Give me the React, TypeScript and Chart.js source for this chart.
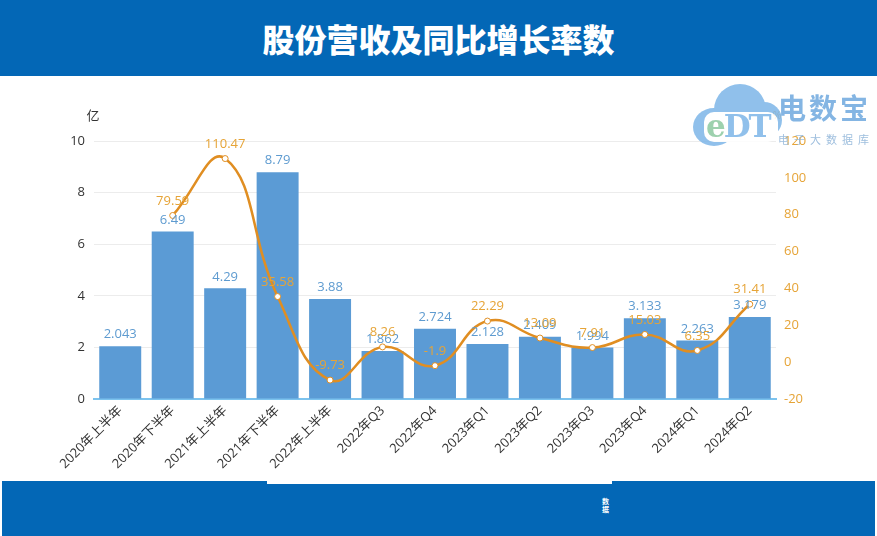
import React, { useEffect, useRef } from "react";
import { Chart, registerables } from "chart.js";

Chart.register(...registerables);

const TITLE = "股份营收及同比增长率数";
const categories = [
  "2020年上半年", "2020年下半年", "2021年上半年", "2021年下半年", "2022年上半年",
  "2022年Q3", "2022年Q4", "2023年Q1", "2023年Q2", "2023年Q3", "2023年Q4", "2024年Q1", "2024年Q2",
];
const revenue = [2.043, 6.49, 4.29, 8.79, 3.88, 1.862, 2.724, 2.128, 2.409, 1.994, 3.133, 2.263, 3.179];
const growth: (number | null)[] = [null, 79.59, 110.47, 35.58, -9.73, 8.26, -1.9, 22.29, 13.09, 7.91, 15.03, 6.35, 31.41];
const leftTicks = { min: 0, max: 10, step: 2 };
const rightTicks = { min: -20, max: 120, step: 20 };
const LEFT_UNIT = "亿";
const RIGHT_UNIT = "%";

const BAR_COLOR = "#5B9BD5";
const BAR_LABEL = "#5E9BD0";
const LINE_COLOR = "#E08E22";
const LINE_LABEL = "#E6A437";
const FONT = "'Open Sans', 'Noto Sans CJK SC', sans-serif";

const labelPlugin = {
  id: "valueLabels",
  afterDatasetsDraw(chart: any) {
    const ctx = chart.ctx;
    ctx.save();
    ctx.font = `13px ${FONT}`;
    ctx.textAlign = "center";
    ctx.textBaseline = "bottom";
    const barMeta = chart.getDatasetMeta(1);
    barMeta.data.forEach((el: any, i: number) => {
      ctx.fillStyle = BAR_LABEL;
      ctx.fillText(String(revenue[i]), el.x, el.y - 5);
    });
    const lineMeta = chart.getDatasetMeta(0);
    lineMeta.data.forEach((el: any, i: number) => {
      const v = growth[i];
      if (v === null || v === undefined) return;
      ctx.fillStyle = LINE_LABEL;
      ctx.fillText(String(v), el.x, el.y - 8);
    });
    const ca = chart.chartArea;
    ctx.font = `13px ${FONT}`;
    ctx.fillStyle = "#333";
    ctx.textAlign = "center";
    ctx.textBaseline = "middle";
    ctx.fillText(LEFT_UNIT, ca.left - 1, ca.top - 25);
    ctx.fillStyle = LINE_LABEL;
    ctx.font = `11px ${FONT}`;
    ctx.fillText(RIGHT_UNIT, ca.right + 1, ca.top - 25);
    ctx.restore();
  },
};

function Logo() {
  return (
    <div style={{ position: "absolute", left: 690, top: 80, width: 187, height: 72, opacity: 0.85 }}>
      <div style={{ position: "absolute", left: 3, top: 28, width: 42, height: 38, borderRadius: "50%", background: "#7DB6E8" }} />
      <div style={{ position: "absolute", left: 24, top: 4, width: 52, height: 52, borderRadius: "50%", background: "#7DB6E8" }} />
      <div style={{ position: "absolute", left: 56, top: 22, width: 36, height: 36, borderRadius: "50%", background: "#7DB6E8" }} />
      <div style={{ position: "absolute", left: 14, top: 32, width: 74, height: 30, background: "#fff", borderRadius: 10 }} />
      <div style={{ position: "absolute", left: 16, top: 28, fontFamily: "'DejaVu Serif', serif", fontSize: 31, fontWeight: "bold", color: "#8CC9A0", letterSpacing: -2 }}>
        e<span style={{ color: "#7DB6E8" }}>DT</span>
      </div>
      <div style={{ position: "absolute", left: 88, top: 11, fontFamily: "'Noto Sans CJK SC', sans-serif", fontSize: 28, fontWeight: "bold", color: "#6FA9DF", letterSpacing: 3, lineHeight: "32px" }}>电数宝</div>
      <div style={{ position: "absolute", left: 88, top: 52, fontFamily: "'Noto Sans CJK SC', sans-serif", fontSize: 11, color: "#8DB3D8", letterSpacing: 5, lineHeight: "14px" }}>电子大数据库</div>
    </div>
  );
}

export default function App() {
  const canvasRef = useRef<HTMLCanvasElement | null>(null);

  useEffect(() => {
    document.body.style.margin = "0";
    const canvas = canvasRef.current;
    if (!canvas) return;
    const chart = new Chart(canvas, {
      type: "bar",
      data: {
        labels: categories,
        datasets: [
          {
            type: "line",
            label: "同比增长率",
            data: growth,
            yAxisID: "y1",
            borderColor: LINE_COLOR,
            borderWidth: 2.5,
            tension: 0.45,
            pointRadius: 3,
            pointBackgroundColor: "#fff",
            pointBorderColor: LINE_COLOR,
            pointBorderWidth: 1,
            order: 0,
          } as any,
          {
            type: "bar",
            label: "营收",
            data: revenue,
            yAxisID: "y",
            backgroundColor: BAR_COLOR,
            barPercentage: 0.8,
            categoryPercentage: 1,
            order: 1,
          },
        ],
      },
      options: {
        responsive: false,
        animation: false,
        layout: { padding: { top: 65, left: 0, right: 0, bottom: 0 } },
        plugins: { legend: { display: false }, tooltip: { enabled: false } },
        scales: {
          x: {
            grid: { display: false, drawTicks: false },
            border: { display: true, color: "#7CC3EE", width: 2 },
            ticks: {
              maxRotation: 45,
              minRotation: 45,
              color: "#333",
              padding: 4,
              font: { size: 13, family: FONT },
              autoSkip: false,
            },
            afterFit: (s: any) => { s.height = 82; },
          },
          y: {
            position: "left",
            min: leftTicks.min,
            max: leftTicks.max,
            ticks: { stepSize: leftTicks.step, color: "#333", padding: 9, font: { size: 13, family: FONT } },
            grid: { color: "#ECECEC", drawTicks: false },
            border: { display: false },
            afterFit: (s: any) => { s.width = 94; },
          },
          y1: {
            position: "right",
            min: rightTicks.min,
            max: rightTicks.max,
            ticks: { stepSize: rightTicks.step, color: LINE_LABEL, padding: 8, font: { size: 13, family: FONT } },
            grid: { display: false, drawTicks: false },
            border: { display: false },
            afterFit: (s: any) => { s.width = 101; },
          },
        },
      },
      plugins: [labelPlugin],
    });
    return () => chart.destroy();
  }, []);

  return (
    <div style={{ position: "relative", width: 877, height: 536, background: "#fff", overflow: "hidden" }}>
      <div style={{ position: "absolute", left: 0, top: 0, width: 877, height: 76, background: "#0367B6", display: "flex", alignItems: "center", justifyContent: "center" }}>
        <span style={{ color: "#fff", fontFamily: "'Noto Sans CJK SC', sans-serif", fontWeight: 900, fontSize: 32, letterSpacing: 0 }}>{TITLE}</span>
      </div>
      <canvas ref={canvasRef} width={877} height={405} style={{ position: "absolute", left: 0, top: 76, width: 877, height: 405 }} />
      <Logo />
      <div style={{ position: "absolute", left: 2, top: 481, width: 873, height: 55, background: "#0367B6" }} />
      <div style={{ position: "absolute", left: 267, top: 481, width: 345, height: 3, background: "#fff" }} />
      <div style={{ position: "absolute", left: 602, top: 497, width: 8, fontFamily: "'Noto Sans CJK SC', sans-serif", fontSize: 7, color: "#fff", lineHeight: "8px", fontWeight: "bold" }}>数据</div>
    </div>
  );
}
